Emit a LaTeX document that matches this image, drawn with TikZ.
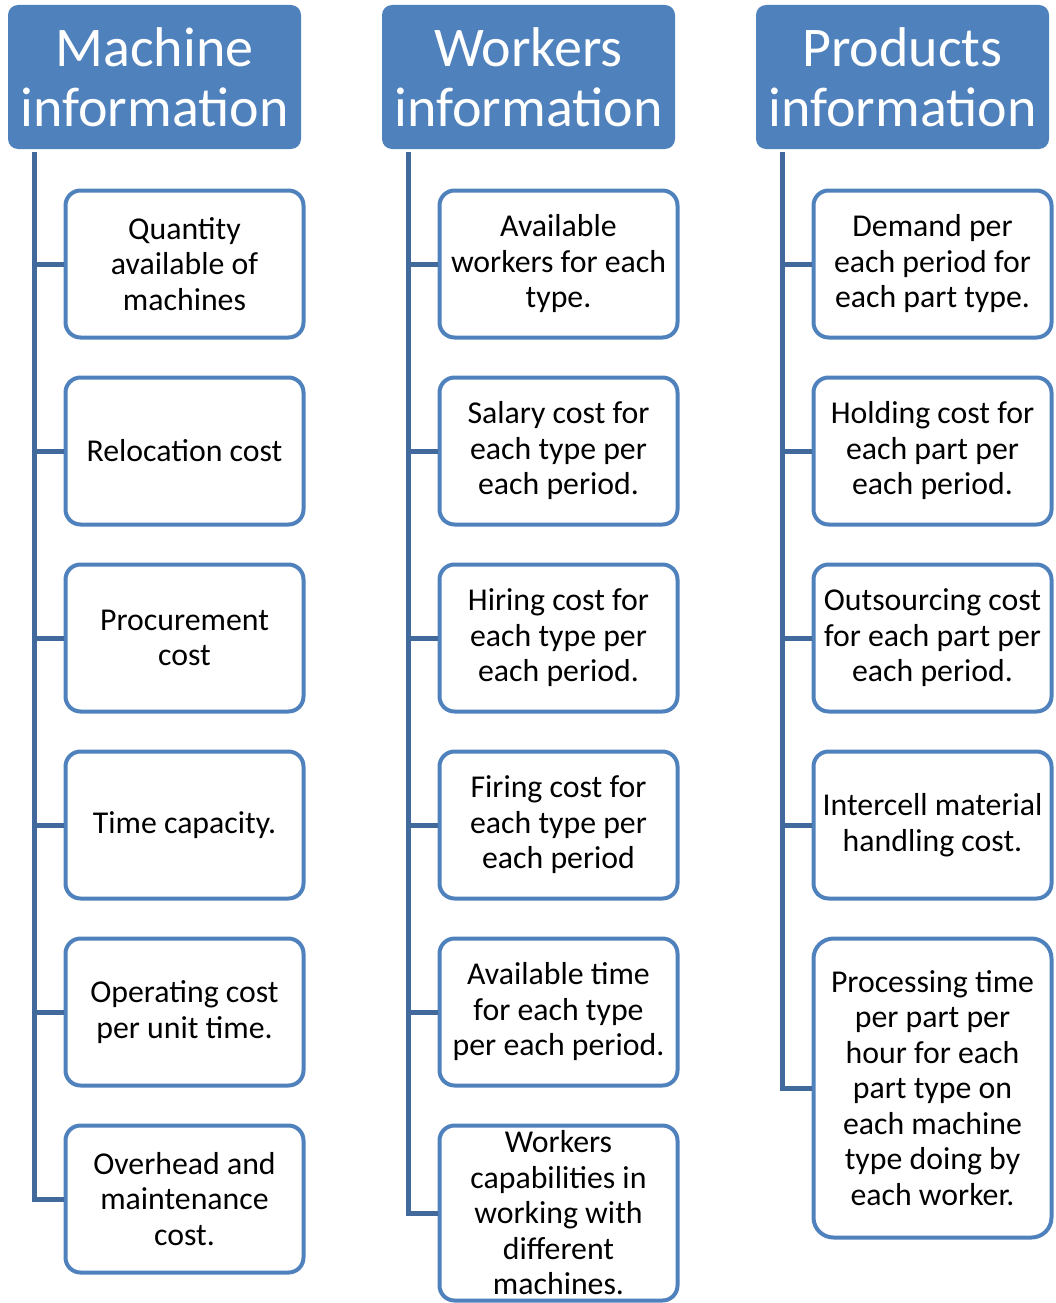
\documentclass[tikz,border=0pt]{standalone}
\usepackage{fontspec}
\setmainfont{Carlito}
\usetikzlibrary{calc}
\definecolor{hdrblue}{HTML}{4F81BD}
\definecolor{linkblue}{HTML}{41699C}

\tikzset{
  header/.style={fill=hdrblue,rounded corners=10pt,minimum width=293pt,minimum height=144pt,
    inner sep=0pt,text=white,align=center,font=\fontsize{56}{60}\selectfont},
  item/.style={draw=hdrblue,line width=4pt,fill=white,rounded corners=15pt,minimum width=238pt,
    minimum height=147pt,inner sep=0pt,align=center,font=\fontsize{31.8}{35.5}\selectfont},
  trunk/.style={draw=linkblue,line width=5pt}
}

\begin{document}
\begin{tikzpicture}[x=1pt,y=-1pt]
        \useasboundingbox (0,0) rectangle (1055,1303);

        % headers
        \node[header] (h1) at (154.5,77) {Machine\\information};
        \node[header] (h2) at (528.5,77) {Workers\\information};
        \node[header] (h3) at (902.5,77) {Products\\information};

        % machine information
        \node[item] (m1) at (184.5,264) {Quantity\\available of\\machines};
        \node[item] (m2) at (184.5,451) {Relocation cost};
        \node[item] (m3) at (184.5,638) {Procurement\\cost};
        \node[item] (m4) at (184.5,825) {Time capacity.};
        \node[item] (m5) at (184.5,1012) {Operating cost\\per unit time.};
        \node[item] (m6) at (184.5,1199) {Overhead and\\maintenance\\cost.};

        % workers information
        \node[item] (w1) at (558.5,264) {Available\\workers for each\\type.};
        \node[item] (w2) at (558.5,451) {Salary cost for\\each type per\\each period.};
        \node[item] (w3) at (558.5,638) {Hiring cost for\\each type per\\each period.};
        \node[item] (w4) at (558.5,825) {Firing cost for\\each type per\\each period};
        \node[item] (w5) at (558.5,1012) {Available time\\for each type\\per each period.};
        \node[item,minimum height=175pt] (w6) at (558.5,1213) {Workers\\capabilities in\\working with\\different\\machines.};

        % products information
        \node[item] (p1) at (932.5,264) {Demand per\\each period for\\each part type.};
        \node[item] (p2) at (932.5,451) {Holding cost for\\each part per\\each period.};
        \node[item] (p3) at (932.5,638) {Outsourcing cost\\for each part per\\each period.};
        \node[item] (p4) at (932.5,825) {Intercell material\\handling cost.};
        \node[item,minimum height=299pt,rounded corners=20pt] (p5) at (932.5,1088) {Processing time\\per part per\\hour for each\\part type on\\each machine\\type doing by\\each worker.};

        % connectors
        \coordinate (t1) at ($(h1.south west)+(27,3)$);
        \coordinate (t2) at ($(h2.south west)+(27,3)$);
        \coordinate (t3) at ($(h3.south west)+(27,3)$);

        \draw[trunk] (t1) |- (m6.west);
        \foreach \i in {1,...,5}
          \draw[trunk] (t1 |- m\i.west) -- (m\i.west);
        \draw[trunk] (t2) |- (w6.west);
        \foreach \i in {1,...,5}
          \draw[trunk] (t2 |- w\i.west) -- (w\i.west);
        \draw[trunk] (t3) |- (p5.west);
        \foreach \i in {1,...,4}
          \draw[trunk] (t3 |- p\i.west) -- (p\i.west);
\end{tikzpicture}
\end{document}
